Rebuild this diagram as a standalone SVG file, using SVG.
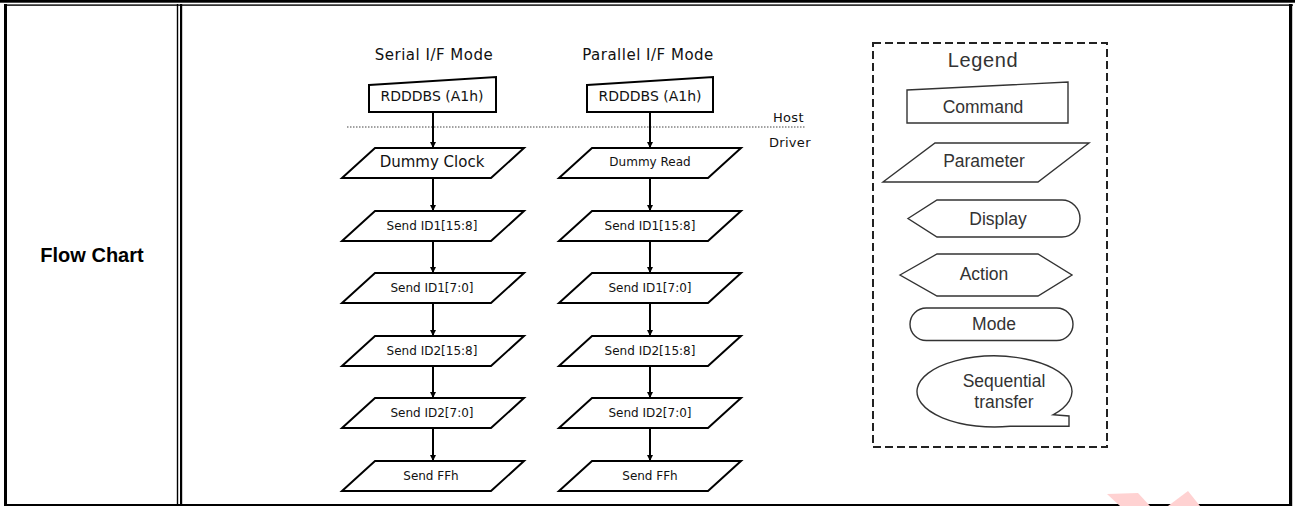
<svg xmlns="http://www.w3.org/2000/svg" width="1295" height="506" viewBox="0 0 1295 506">
<defs>
<style>
.brd{fill:#000}
.fc{fill:#fff;stroke:#000;stroke-width:2;stroke-linejoin:miter}
.lg{fill:#fff;stroke:#333;stroke-width:1.4}
.t{font-family:"DejaVu Sans",sans-serif;fill:#111;text-anchor:middle}
.ts{font-size:12px}
.lt{font-family:"Liberation Sans",Arial,sans-serif;font-size:17.5px;fill:#333;text-anchor:middle}
.conn{stroke:#000;stroke-width:2;fill:none;marker-end:url(#ah)}
</style>
<marker id="ah" markerUnits="userSpaceOnUse" markerWidth="7" markerHeight="7" refX="6" refY="3" orient="auto">
<path d="M0,0 L6,3 L0,6 Z" fill="#000"/>
</marker>
<polygon id="para" points="-58,0 91,0 58,30 -91,30"/>
</defs>

<g id="table">
<rect class="brd" x="0" y="0" width="1295" height="2.7"/>
<rect class="brd" x="4" y="4.4" width="1289" height="1.4"/>
<rect class="brd" x="4" y="4" width="3" height="502"/>
<rect class="brd" x="176.8" y="4" width="1.4" height="502"/>
<rect class="brd" x="180" y="4" width="2.2" height="502"/>
<rect class="brd" x="1289" y="4" width="3.2" height="502"/>
<rect class="brd" x="4" y="504" width="1288" height="2"/>
<text x="92" y="262" font-family="Liberation Sans,Arial,sans-serif" font-size="20" font-weight="bold" text-anchor="middle" fill="#000">Flow Chart</text>
</g>

<g id="watermark" fill="#ffd2d2">
<polygon points="1107,494 1138,493 1150,506 1120,506"/>
<polygon points="1188,491 1200,506 1168,506"/>
</g>

<g id="titles">
<text class="t" x="434" y="60" font-size="15" letter-spacing="0.5" fill="#222">Serial I/F Mode</text>
<text class="t" x="648" y="60" font-size="15" letter-spacing="0.5" fill="#222">Parallel I/F Mode</text>
</g>

<g id="hostdriver">
<line x1="347" y1="127" x2="805" y2="127" stroke="#444" stroke-width="1" stroke-dasharray="1.5,1.5"/>
<text x="773" y="122" font-family="DejaVu Sans,sans-serif" font-size="13" letter-spacing="0.3" fill="#111">Host</text>
<text x="769" y="147" font-family="DejaVu Sans,sans-serif" font-size="13" letter-spacing="0.3" fill="#111">Driver</text>
</g>

<g id="connectors">
<line class="conn" x1="433" y1="112" x2="433" y2="148"/>
<line class="conn" x1="433" y1="178" x2="433" y2="211"/>
<line class="conn" x1="433" y1="241" x2="433" y2="273"/>
<line class="conn" x1="433" y1="303" x2="433" y2="336"/>
<line class="conn" x1="433" y1="366" x2="433" y2="398"/>
<line class="conn" x1="433" y1="428" x2="433" y2="461"/>
<line class="conn" x1="650" y1="112" x2="650" y2="148"/>
<line class="conn" x1="650" y1="178" x2="650" y2="211"/>
<line class="conn" x1="650" y1="241" x2="650" y2="273"/>
<line class="conn" x1="650" y1="303" x2="650" y2="336"/>
<line class="conn" x1="650" y1="366" x2="650" y2="398"/>
<line class="conn" x1="650" y1="428" x2="650" y2="461"/>
</g>

<g id="s-cmd">
<polygon class="fc" points="369,85 496,77 496,112 369,112"/>
<text class="t" x="432" y="101" font-size="14">RDDDBS (A1h)</text>
</g>
<g id="s-dummy">
<use href="#para" class="fc" x="433" y="148"/>
<text class="t" x="432" y="167" font-size="15">Dummy Clock</text>
</g>
<g id="s-id1h">
<use href="#para" class="fc" x="433" y="211"/>
<text class="t ts" x="432" y="230">Send ID1[15:8]</text>
</g>
<g id="s-id1l">
<use href="#para" class="fc" x="433" y="273"/>
<text class="t ts" x="432" y="292">Send ID1[7:0]</text>
</g>
<g id="s-id2h">
<use href="#para" class="fc" x="433" y="336"/>
<text class="t ts" x="432" y="355">Send ID2[15:8]</text>
</g>
<g id="s-id2l">
<use href="#para" class="fc" x="433" y="398"/>
<text class="t ts" x="432" y="417">Send ID2[7:0]</text>
</g>
<g id="s-ffh">
<use href="#para" class="fc" x="433" y="461"/>
<text class="t ts" x="431" y="480">Send FFh</text>
</g>

<g id="p-cmd">
<polygon class="fc" points="587,85 713,77 713,112 587,112"/>
<text class="t" x="650" y="101" font-size="14">RDDDBS (A1h)</text>
</g>
<g id="p-dummy">
<use href="#para" class="fc" x="650" y="148"/>
<text class="t ts" x="650" y="166">Dummy Read</text>
</g>
<g id="p-id1h">
<use href="#para" class="fc" x="650" y="211"/>
<text class="t ts" x="650" y="230">Send ID1[15:8]</text>
</g>
<g id="p-id1l">
<use href="#para" class="fc" x="650" y="273"/>
<text class="t ts" x="650" y="292">Send ID1[7:0]</text>
</g>
<g id="p-id2h">
<use href="#para" class="fc" x="650" y="336"/>
<text class="t ts" x="650" y="355">Send ID2[15:8]</text>
</g>
<g id="p-id2l">
<use href="#para" class="fc" x="650" y="398"/>
<text class="t ts" x="650" y="417">Send ID2[7:0]</text>
</g>
<g id="p-ffh">
<use href="#para" class="fc" x="650" y="461"/>
<text class="t ts" x="650" y="480">Send FFh</text>
</g>

<g id="legend">
<rect x="873" y="43" width="234" height="404" fill="none" stroke="#222" stroke-width="2" stroke-dasharray="8,4"/>
<text x="983" y="67" font-family="Liberation Sans,Arial,sans-serif" font-size="20" letter-spacing="0.6" fill="#333" text-anchor="middle">Legend</text>
</g>
<g id="lg-command">
<polygon class="lg" points="907,90 1068,82 1068,123 907,123"/>
<text class="lt" x="983" y="113">Command</text>
</g>
<g id="lg-parameter">
<polygon class="lg" points="935,143 1089,143 1038,182 883,182"/>
<text class="lt" x="984" y="167">Parameter</text>
</g>
<g id="lg-display">
<path class="lg" d="M908,218.5 L937,200 L1062,200 A18,18.5 0 0 1 1062,237 L937,237 Z"/>
<text class="lt" x="998" y="225">Display</text>
</g>
<g id="lg-action">
<polygon class="lg" points="900,275 937,254 1038,254 1072,275 1038,296 937,296"/>
<text class="lt" x="984" y="280">Action</text>
</g>
<g id="lg-mode">
<rect class="lg" x="910" y="308" width="163" height="32.5" rx="16.25" ry="16.25"/>
<text class="lt" x="994" y="330">Mode</text>
</g>
<g id="lg-seq">
<path class="lg" d="M1010,426.3 A77.5,35.5 0 1 1 1053,414.8 L1069,416 L1069,426.3 Z"/>
<text class="lt" x="1004" y="387">Sequential</text>
<text class="lt" x="1004" y="408">transfer</text>
</g>
</svg>
